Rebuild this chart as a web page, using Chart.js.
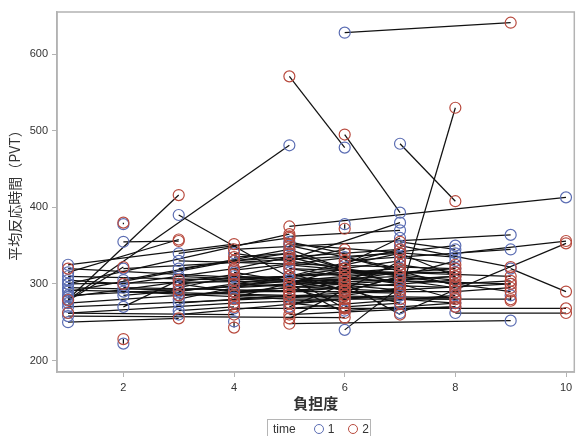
<!DOCTYPE html>
<html>
<head>
<meta charset="utf-8">
<script src="https://cdn.jsdelivr.net/npm/chart.js@4"></script>
<style>
  html, body { margin: 0; padding: 0; background: #fff; }
  #wrap { position: relative; width: 581px; height: 436px; }
  #legend {
    position: absolute; left: 267px; top: 419px; width: 104px; height: 20px;
    border: 1px solid #b5b5b5; box-sizing: border-box;
    font-family: "Liberation Sans", Arial, sans-serif; font-size: 12px; color: #333;
    display: flex; align-items: center; padding-left: 5px; gap: 4px;
  }
  #legend .dot { display: inline-block; width: 10px; height: 10px; border-radius: 50%; border: 1.3px solid; box-sizing: border-box; margin-left: 10px; }
</style>
</head>
<body>
<div id="wrap">
  <canvas id="myChart" width="581" height="436"></canvas>
  <div id="legend"></div>
</div>
<script>
// time 1 (blue) and time 2 (red) for each subject: load and reaction time
const load1 = [6,6,7,7,7,10,5,3,1,2,2,2,4,6,9,7,8,9,8,4,9,9,1,1,1,1,1,1,1,1,1,1,1,1,2,2,2,2,2,3,3,3,3,3,3,3,3,4,4,4,4,4,5,5,5,5,5,5,5,5,5,6,6,7,7,7,7,7,7,7,7,8,8,8,8,8,8,6,9,9,5,4,
               4,4,3,3,2,1,1,1,5,5,5,5,5,5,5,5,5,5,7,7,7,7,7,7,7,7,7,7,7,8,8,8,8,8,8,8,8,8,6,6,6,6,6,6,3,3,3,4,4,4,2,1,1];
const rt1   = [628,478,393,483,285,413,481,390,280,355,378,222,251,240,252,262,340,320,262,268,364,345,325,315,300,290,278,258,250,305,295,310,285,270,320,300,290,270,285,340,330,310,300,290,280,265,260,340,300,290,282,310,350,340,330,320,310,300,290,280,270,378,300,350,340,330,320,310,300,290,380,350,330,310,300,285,275,335,300,285,305,275,
               320,305,295,285,305,300,292,283,345,335,325,315,305,295,285,275,355,340,370,360,345,335,325,315,305,295,285,275,268,345,335,320,315,305,295,290,280,270,325,315,305,290,280,265,320,305,275,330,315,295,295,275,262];
const load2 = [9,5,6,8,8,5,1,6,3,3,2,2,4,7,5,10,10,10,10,10,4,6,4,3,5,4,2,6,3,2,3,4,5,6,7,4,5,3,6,5,8,6,4,7,5,4,6,8,7,5,6,9,7,8,6,9,7,6,8,9,6,6,7,9,8,5,3,9,5,4,5,4,6,3,9,5,7,8,4,9,1,1,
               5,6,5,6,5,6,5,4,6,7,8,6,7,6,8,6,6,4,5,6,5,8,6,5,8,6,5,6,8,7,5,6,7,5,6,9,4,5,7,8,5,7,4,8,5,7,5,7,6,8,7,5,4];
const rt2   = [641,571,495,408,530,375,279,268,416,356,380,228,243,296,248,353,356,290,262,268,345,330,352,358,365,330,322,256,255,300,292,305,300,285,340,320,280,305,310,360,320,300,290,330,310,270,280,300,310,290,320,300,320,280,345,310,275,262,290,280,300,372,260,322,310,255,300,290,320,300,332,318,290,285,304,268,280,298,280,278,320,262,
               335,315,325,295,345,305,285,312,320,300,305,290,292,275,282,268,340,335,362,325,310,325,305,295,295,285,275,270,270,355,352,310,325,290,300,295,285,260,340,315,300,310,275,275,340,315,285,345,292,310,288,295,260];
const timeLabels = ['1', '2'];
const xTicks = [2, 4, 6, 8, 10];
const yTicks = [200, 300, 400, 500, 600];

const blue = '#5b6db3';
const red = '#b84a3e';

const ctx = document.getElementById('myChart');

let datasets = [];
// circles on top
datasets.push({
  label: timeLabels[0],
  data: load1.map((x, i) => ({ x: x, y: rt1[i] })),
  showLine: false,
  pointStyle: 'circle',
  pointRadius: 5.5,
  pointBorderWidth: 1.2,
  pointBackgroundColor: 'rgba(0,0,0,0)',
  pointBorderColor: blue,
  order: 1
});
datasets.push({
  label: timeLabels[1],
  data: load2.map((x, i) => ({ x: x, y: rt2[i] })),
  showLine: false,
  pointStyle: 'circle',
  pointRadius: 5.5,
  pointBorderWidth: 1.2,
  pointBackgroundColor: 'rgba(0,0,0,0)',
  pointBorderColor: red,
  order: 0
});
// one line per subject
for (let i = 0; i < load1.length; i++) {
  datasets.push({
    label: 'subj' + i,
    data: [{ x: load1[i], y: rt1[i] }, { x: load2[i], y: rt2[i] }],
    showLine: true,
    borderColor: '#111',
    borderWidth: 1.25,
    pointRadius: 0,
    order: 2
  });
}

const frame = {
  id: 'frame',
  afterDraw(chart) {
    const a = chart.chartArea;
    const c = chart.ctx;
    c.save();
    c.strokeStyle = '#b3b3b3';
    c.lineWidth = 1.5;
    c.strokeRect(a.left, a.top, a.right - a.left, a.bottom - a.top);
    c.restore();
  }
};

let myChart = new Chart(ctx, {
  type: 'scatter',
  data: { datasets: datasets },
  options: {
    responsive: false,
    animation: false,
    layout: { padding: { top: 12, right: 1, bottom: 24, left: 0 } },
    plugins: {
      legend: { display: false },
      tooltip: { enabled: false }
    },
    scales: {
      x: {
        type: 'linear',
        min: 0.8,
        max: 10.15,
        afterFit: (s) => { s.height = 40; },
        afterBuildTicks: (s) => { s.ticks = xTicks.map(v => ({ value: v })); },
        grid: { drawOnChartArea: false, tickLength: 5, color: '#b3b3b3' },
        border: { color: '#b3b3b3', width: 1.5 },
        ticks: { color: '#333', font: { family: 'Liberation Sans', size: 11 }, padding: 4 },
        title: { display: true, text: '負担度', color: '#333', font: { family: 'Noto Sans CJK JP', size: 15, weight: 'bold' }, padding: { top: 0, bottom: 0 } }
      },
      y: {
        min: 185,
        max: 655,
        afterFit: (s) => { s.width = 57; },
        afterBuildTicks: (s) => { s.ticks = yTicks.map(v => ({ value: v })); },
        grid: { drawOnChartArea: false, tickLength: 5, color: '#b3b3b3' },
        border: { color: '#b3b3b3', width: 1.5 },
        ticks: { color: '#333', font: { family: 'Liberation Sans', size: 11 }, padding: 4 },
        title: { display: true, text: '平均反応時間（PVT）', color: '#333', font: { family: 'Noto Sans CJK JP', size: 14 }, padding: { top: 6, bottom: 0 } }
      }
    }
  },
  plugins: [frame]
});

// legend
const lg = document.getElementById('legend');
lg.innerHTML = '<span>time</span>' +
  '<span class="dot" style="border-color:' + blue + ';margin-left:14px"></span><span>' + timeLabels[0] + '</span>' +
  '<span class="dot" style="border-color:' + red + '"></span><span>' + timeLabels[1] + '</span>';
</script>
</body>
</html>
